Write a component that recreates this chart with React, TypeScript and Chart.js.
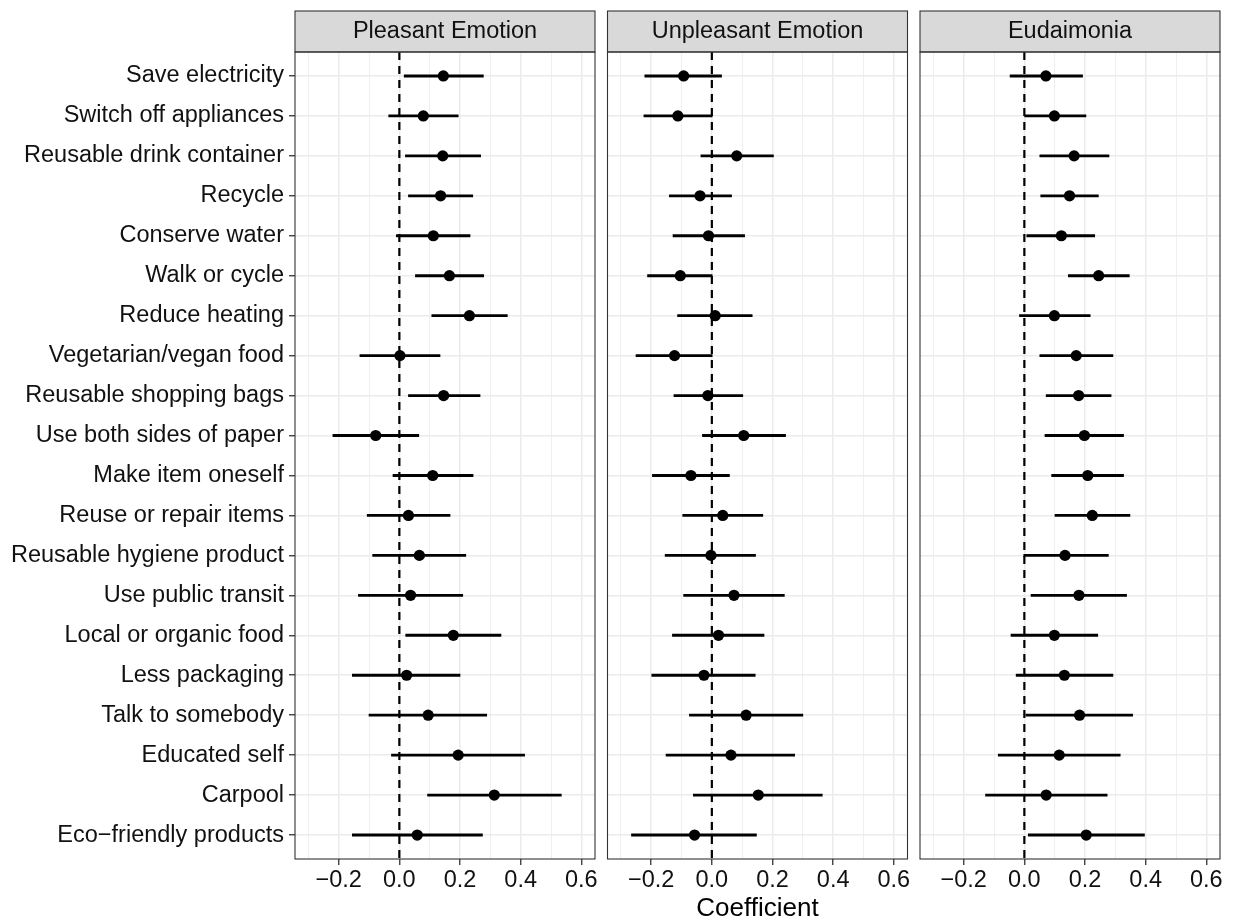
import React, { useEffect, useRef } from "react";
import { Chart, registerables } from "chart.js";

Chart.register(...registerables);

const FONT = "'Liberation Sans', Arimo, Arial, Helvetica, sans-serif";

// ---------------- data ----------------
const CATEGORIES = [
  "Save electricity",
  "Switch off appliances",
  "Reusable drink container",
  "Recycle",
  "Conserve water",
  "Walk or cycle",
  "Reduce heating",
  "Vegetarian/vegan food",
  "Reusable shopping bags",
  "Use both sides of paper",
  "Make item oneself",
  "Reuse or repair items",
  "Reusable hygiene product",
  "Use public transit",
  "Local or organic food",
  "Less packaging",
  "Talk to somebody",
  "Educated self",
  "Carpool",
  "Eco\u2212friendly products",
];

const PANEL_TITLES = ["Pleasant Emotion", "Unpleasant Emotion", "Eudaimonia"];

const PLEASANT_EST = [0.145, 0.079, 0.143, 0.136, 0.112, 0.165, 0.231, 0.002, 0.146, -0.078, 0.110, 0.030, 0.066, 0.037, 0.178, 0.024, 0.095, 0.194, 0.313, 0.059];
const PLEASANT_LO = [0.016, -0.035, 0.020, 0.030, -0.010, 0.053, 0.107, -0.130, 0.030, -0.219, -0.021, -0.106, -0.088, -0.135, 0.021, -0.155, -0.100, -0.026, 0.093, -0.155];
const PLEASANT_HI = [0.277, 0.194, 0.268, 0.242, 0.233, 0.278, 0.356, 0.134, 0.266, 0.064, 0.243, 0.167, 0.219, 0.209, 0.335, 0.200, 0.288, 0.413, 0.534, 0.274];

const UNPLEASANT_EST = [-0.093, -0.112, 0.082, -0.039, -0.011, -0.104, 0.011, -0.123, -0.013, 0.105, -0.069, 0.036, -0.003, 0.073, 0.022, -0.026, 0.113, 0.063, 0.153, -0.057];
const UNPLEASANT_LO = [-0.221, -0.224, -0.036, -0.140, -0.128, -0.212, -0.113, -0.250, -0.125, -0.031, -0.196, -0.096, -0.154, -0.093, -0.130, -0.198, -0.074, -0.151, -0.061, -0.265];
const UNPLEASANT_HI = [0.032, 0.001, 0.203, 0.065, 0.108, 0.001, 0.133, 0.001, 0.102, 0.243, 0.058, 0.168, 0.144, 0.239, 0.172, 0.143, 0.300, 0.273, 0.364, 0.147];

const EUDAIMONIA_EST = [0.071, 0.099, 0.164, 0.149, 0.122, 0.245, 0.099, 0.171, 0.179, 0.198, 0.209, 0.224, 0.134, 0.180, 0.099, 0.132, 0.182, 0.115, 0.072, 0.204];
const EUDAIMONIA_LO = [-0.047, 0.001, 0.051, 0.054, 0.008, 0.145, -0.016, 0.051, 0.072, 0.068, 0.090, 0.101, -0.002, 0.022, -0.044, -0.027, 0.005, -0.086, -0.128, 0.013];
const EUDAIMONIA_HI = [0.192, 0.203, 0.279, 0.244, 0.232, 0.346, 0.217, 0.292, 0.286, 0.327, 0.327, 0.348, 0.277, 0.337, 0.242, 0.292, 0.357, 0.316, 0.273, 0.396];

const X_MAJOR_TICKS = [-0.2, 0.0, 0.2, 0.4, 0.6];
const X_TICK_LABELS = ["\u22120.2", "0.0", "0.2", "0.4", "0.6"];
const X_MINOR_TICKS = [-0.3, -0.1, 0.1, 0.3, 0.5];
const X_MIN = -0.344;
const X_MAX = 0.645;
const ZERO_LINE_X = [0, 0];
const X_TITLE = "Coefficient";

// ---------------- layout ----------------
const W = 1233;
const H = 922;
const PANEL_LEFTS = [295, 607.5, 920];
const PANEL_WIDTH = 300;
const PLOT_TOP = 52;
const STRIP_TOP = 11;
const X_AXIS_HEIGHT = 63;
const Y_LABEL_WIDTH = 295;
const TEXT_SIZE = 23.5;

const PANEL_DATA = [
  { est: PLEASANT_EST, lo: PLEASANT_LO, hi: PLEASANT_HI },
  { est: UNPLEASANT_EST, lo: UNPLEASANT_LO, hi: UNPLEASANT_HI },
  { est: EUDAIMONIA_EST, lo: EUDAIMONIA_LO, hi: EUDAIMONIA_HI },
];

const isMajor = (v: number) => X_MAJOR_TICKS.some((m) => Math.abs(m - v) < 1e-9);

const framePlugin = {
  id: "facetFrame",
  afterDraw(chart: any, _args: any, opts: any) {
    const { ctx, chartArea } = chart;
    const { left, right, top, bottom } = chartArea;
    ctx.save();
    // strip
    ctx.fillStyle = "#D9D9D9";
    ctx.fillRect(left, STRIP_TOP, right - left, top - STRIP_TOP);
    ctx.strokeStyle = "#333333";
    ctx.lineWidth = 1.1;
    ctx.strokeRect(left, STRIP_TOP, right - left, top - STRIP_TOP);
    ctx.fillStyle = "#111111";
    ctx.font = `${TEXT_SIZE}px ${FONT}`;
    ctx.textAlign = "center";
    ctx.textBaseline = "middle";
    ctx.fillText(opts.title, (left + right) / 2, (STRIP_TOP + top) / 2 + 0.5);
    // panel border
    ctx.strokeRect(left, top, right - left, bottom - top);
    ctx.restore();
  },
};

function Panel({ index }: { index: number }) {
  const ref = useRef<HTMLCanvasElement | null>(null);
  useEffect(() => {
    if (!ref.current) return;
    const { est, lo, hi } = PANEL_DATA[index];
    const showY = index === 0;
    const showTitle = index === 1;
    const left = PANEL_LEFTS[index];
    const right = left + PANEL_WIDTH;
    const chart = new Chart(ref.current, {
      type: "bar",
      data: {
        datasets: [
          {
            type: "line",
            data: ZERO_LINE_X.map((x, i) => ({ x, y: i === 0 ? 0.4 : CATEGORIES.length + 0.6 })),
            borderColor: "#000000",
            borderWidth: 2.2,
            borderDash: [8, 6],
            pointRadius: 0,
            fill: false,
            order: 3,
          } as any,
          {
            type: "bar",
            data: lo.map((l, i) => ({ x: [l, hi[i]], y: i + 1 })),
            backgroundColor: "#000000",
            borderWidth: 0,
            barThickness: 2.2,
            order: 2,
          } as any,
          {
            type: "scatter",
            data: est.map((e, i) => ({ x: e, y: i + 1 })),
            backgroundColor: "#000000",
            borderWidth: 0,
            pointRadius: 5.6,
            order: 1,
          } as any,
        ],
      },
      options: {
        indexAxis: "y",
        animation: false,
        responsive: false,
        events: [],
        layout: {
          padding: {
            left: showY ? left - Y_LABEL_WIDTH : left,
            right: W - right,
            top: PLOT_TOP,
            bottom: 0,
          },
        },
        plugins: {
          legend: { display: false },
          tooltip: { enabled: false },
          facetFrame: { title: PANEL_TITLES[index] },
        } as any,
        scales: {
          x: {
            type: "linear",
            position: "bottom",
            offset: false,
            min: X_MIN,
            max: X_MAX,
            afterBuildTicks: (s: any) => {
              s.ticks = [...X_MINOR_TICKS, ...X_MAJOR_TICKS]
                .sort((a, b) => a - b)
                .map((v) => ({ value: v }));
            },
            afterFit: (s: any) => {
              s.height = X_AXIS_HEIGHT;
            },
            ticks: {
              autoSkip: false,
              maxRotation: 0,
              minRotation: 0,
              padding: 1.5,
              color: "#111111",
              font: { family: FONT, size: TEXT_SIZE },
              callback: (v: any) => {
                const k = X_MAJOR_TICKS.findIndex((m) => Math.abs(m - Number(v)) < 1e-9);
                return k >= 0 ? X_TICK_LABELS[k] : "";
              },
            },
            grid: {
              offset: false,
              color: "#EBEBEB",
              lineWidth: (c: any) => (c.tick && isMajor(c.tick.value) ? 1.5 : 0.8),
              drawTicks: true,
              tickLength: 6,
              tickWidth: 1.3,
              tickColor: (c: any) => (c.tick && isMajor(c.tick.value) ? "#333333" : "rgba(0,0,0,0)"),
            },
            border: { display: false },
            title: {
              display: showTitle,
              text: X_TITLE,
              color: "#000000",
              font: { family: FONT, size: 26, lineHeight: 1 },
              padding: { top: 0, bottom: 0 },
            },
          },
          y: {
            type: "linear",
            offset: false,
            min: 0.4,
            max: CATEGORIES.length + 0.6,
            reverse: true,
            afterBuildTicks: (s: any) => {
              s.ticks = CATEGORIES.map((_, i) => ({ value: i + 1 }));
            },
            afterFit: (s: any) => {
              s.width = showY ? Y_LABEL_WIDTH : 0;
            },
            ticks: {
              display: showY,
              autoSkip: false,
              padding: 5,
              color: "#111111",
              font: { family: FONT, size: TEXT_SIZE },
              callback: (v: any) => CATEGORIES[Math.round(Number(v)) - 1] ?? "",
            },
            grid: {
              offset: false,
              color: "#EBEBEB",
              lineWidth: 1.5,
              drawTicks: showY,
              tickLength: 6,
              tickWidth: 1.3,
              tickColor: "#333333",
            },
            border: { display: false },
          },
        },
      } as any,
      plugins: [framePlugin],
    });
    return () => chart.destroy();
  }, [index]);
  return (
    <canvas
      ref={ref}
      width={W}
      height={H}
      style={{ position: "absolute", left: 0, top: 0, width: W, height: H }}
    />
  );
}

export default function App() {
  return (
    <div style={{ position: "absolute", left: 0, top: 0, width: W, height: H, background: "#FFFFFF", overflow: "hidden" }}>
      {PANEL_TITLES.map((_, i) => (
        <Panel key={i} index={i} />
      ))}
    </div>
  );
}
